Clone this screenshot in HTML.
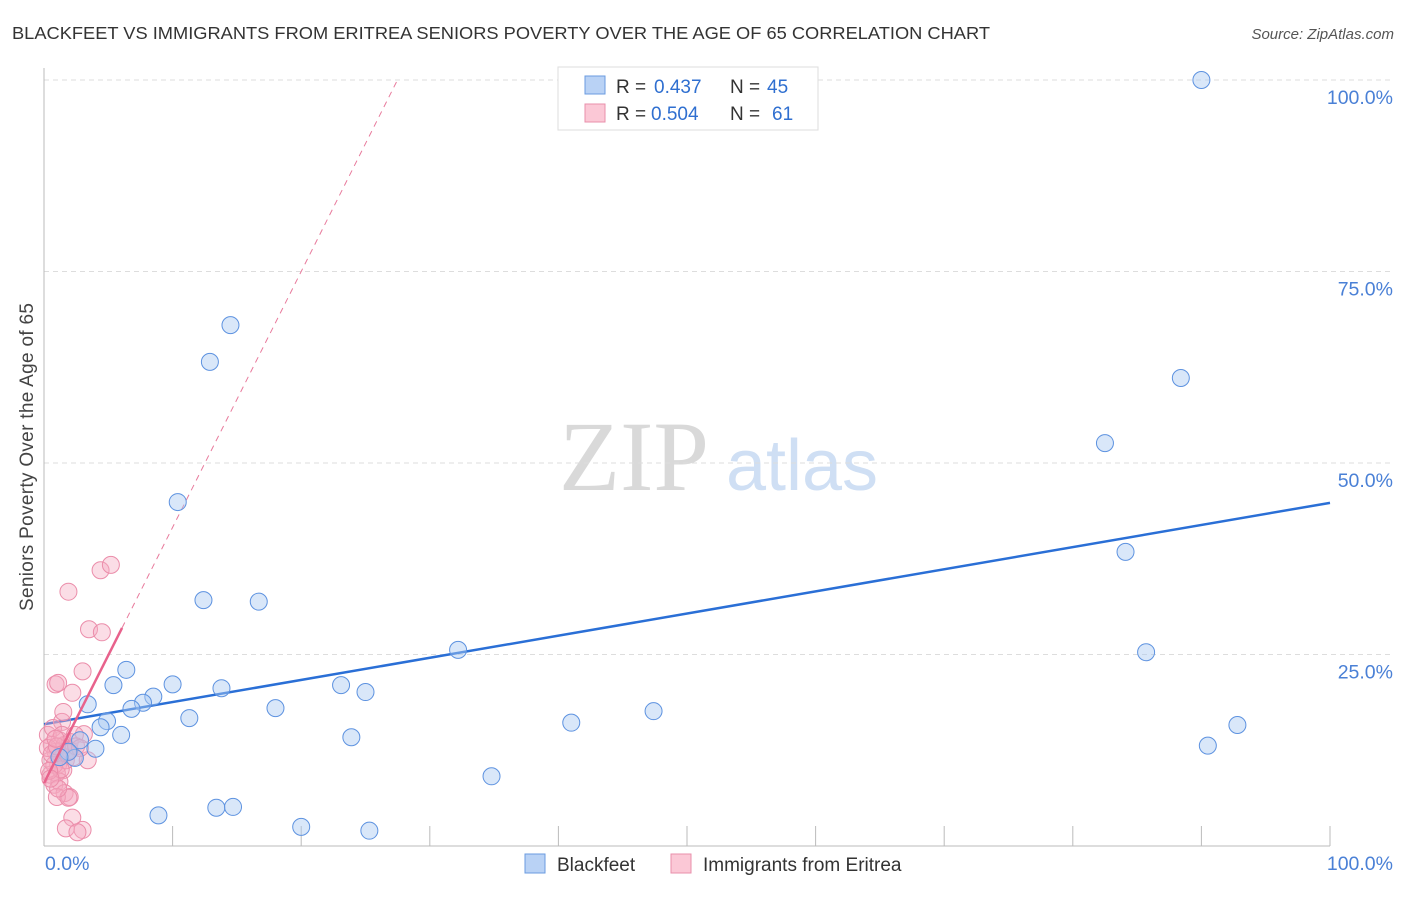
<!DOCTYPE html>
<html><head><meta charset="utf-8"><style>
body{margin:0;background:#fff;font-family:"Liberation Sans",sans-serif;}
</style></head><body>
<svg width="1406" height="892" font-family="Liberation Sans, sans-serif">
<text x="12" y="39" font-size="17.5" fill="#333" textLength="978" lengthAdjust="spacingAndGlyphs">BLACKFEET VS IMMIGRANTS FROM ERITREA SENIORS POVERTY OVER THE AGE OF 65 CORRELATION CHART</text>
<text x="1394" y="39" font-size="15" fill="#555" font-style="italic" text-anchor="end">Source: ZipAtlas.com</text>
<text transform="translate(33,457) rotate(-90)" font-size="19" fill="#444" text-anchor="middle" textLength="308">Seniors Poverty Over the Age of 65</text>
<g>
<text x="634" y="490" font-size="100" style="font-family:'Liberation Serif',serif" fill="#d9d9d9" text-anchor="middle">ZIP</text>
<text x="802" y="490" font-size="72" fill="#cfdff4" text-anchor="middle">atlas</text>
</g>
<g id="grid"></g>
<g id="axes"></g>
<g id="lines"></g>
<g id="pts"></g>
<g>
<rect x="558" y="67" width="260" height="63" fill="#fff" stroke="#ddd"/>
<rect x="585" y="76" width="20" height="18" fill="#b9d2f5" stroke="#6a9be0"/>
<text x="616" y="93" font-size="19" fill="#333">R =</text>
<text x="654" y="93" font-size="19" fill="#2f6fd0">0.437</text>
<text x="730" y="93" font-size="19" fill="#333">N =</text>
<text x="767" y="93" font-size="19" fill="#2f6fd0">45</text>
<rect x="585" y="104" width="20" height="18" fill="#fbc8d6" stroke="#e88fab"/>
<text x="616" y="120" font-size="19" fill="#333">R =</text>
<text x="651" y="120" font-size="19" fill="#2f6fd0">0.504</text>
<text x="730" y="120" font-size="19" fill="#333">N =</text>
<text x="772" y="120" font-size="19" fill="#2f6fd0">61</text>
</g>
<g>
<rect x="525" y="854" width="20" height="19" fill="#b9d2f5" stroke="#6a9be0"/>
<text x="557" y="871" font-size="19" fill="#333">Blackfeet</text>
<rect x="671" y="854" width="20" height="19" fill="#fbc8d6" stroke="#e88fab"/>
<text x="703" y="871" font-size="19" fill="#333">Immigrants from Eritrea</text>
</g>
</svg>
<script>
const yTicks=[25,50,75,100];
const yTickLabels=["25.0%","50.0%","75.0%","100.0%"];
const blueX=[90.0,14.5,12.9,88.4,82.5,10.4,84.1,12.4,16.7,32.2,85.7,6.4,10.0,5.4,23.1,13.8,25.0,8.5,7.7,6.8,3.4,18.0,11.3,4.9,41.0,47.4,92.8,4.4,6.0,23.9,4.0,90.5,2.4,2.8,34.8,8.9,13.4,14.7,20.0,25.3,1.9,1.2];
const blueY=[100.0,68.0,63.2,61.1,52.6,44.9,38.4,32.1,31.9,25.6,25.3,23.0,21.1,21.0,21.0,20.6,20.1,19.5,18.7,17.9,18.5,18.0,16.7,16.3,16.1,17.6,15.8,15.5,14.5,14.2,12.7,13.1,11.5,13.8,9.1,4.0,5.0,5.1,2.5,2.0,12.3,11.6];
const pinkX=[1.9,4.4,5.2,3.5,4.5,3.0,0.9,1.1,2.2,1.4,3.1,1.2,0.6,0.9,1.6,2.0,0.5,1.1,1.5,0.5,1.0,1.7,2.3,3.4,0.8,1.2,1.6,2.0,1.0,1.9,2.2,1.7,3.0,2.6,0.3,0.7,1.3,0.8,0.3,1.4,2.4,2.0,1.5,0.6,1.0,1.3,0.4,1.8,2.5,0.9,1.1,0.5,2.8];
const pinkY=[33.2,36.0,36.7,28.3,27.9,22.8,21.1,21.3,20.0,16.2,14.6,13.8,13.2,12.3,13.2,13.6,11.2,10.6,9.9,9.3,9.5,11.2,11.6,11.2,8.0,8.4,6.9,6.4,6.4,6.3,3.7,2.3,2.1,1.8,14.5,15.4,11.9,10.6,12.8,14.5,14.5,12.5,17.5,12.0,13.0,10.0,9.8,12.2,13.0,14.0,7.5,8.8,12.8];
const blueFit=[15.9,44.8];
const pinkFit=[8.2,3.34];
const pinkSolidEnd=6.07;
const X0=44,X1=1330,Y0=846,Y100=80;
const sx=v=>X0+(X1-X0)*v/100, sy=v=>Y0-(Y0-Y100)*v/100;
const NS="http://www.w3.org/2000/svg";
function mk(t,a,p){const e=document.createElementNS(NS,t);for(const k in a)e.setAttribute(k,a[k]);p.appendChild(e);return e;}
const grid=document.getElementById('grid'),axes=document.getElementById('axes'),lines=document.getElementById('lines'),pts=document.getElementById('pts');
yTicks.forEach((t,i)=>{
 const g=mk('line',{x1:X0,x2:1394,y1:sy(t),y2:sy(t),stroke:'#ddd','stroke-dasharray':'5,4'},grid);
 
 
 const l=mk('text',{x:1393,y:sy(t)+24,'font-size':19.5,fill:'#4a80d6','text-anchor':'end'},grid);l.textContent=yTickLabels[i];
 
 
});
let a=mk('line',{x1:X0,x2:X0,y1:68,y2:Y0,stroke:'#bbb'},axes);


a=mk('line',{x1:X0,x2:X1,y1:Y0,y2:Y0,stroke:'#bbb'},axes);


for(let i=1;i<=10;i++){const t=mk('line',{x1:sx(i*10),x2:sx(i*10),y1:826,y2:Y0,stroke:'#bbb'},axes);
 
 }
let xl=mk('text',{x:45,y:870,'font-size':19.5,fill:'#4a80d6'},axes);xl.textContent='0.0%';


xl=mk('text',{x:1393,y:870,'font-size':19.5,fill:'#4a80d6','text-anchor':'end'},axes);xl.textContent='100.0%';


pinkX.forEach((x,i)=>{const c=mk('circle',{cx:sx(x),cy:sy(pinkY[i]),r:8.5,fill:'rgba(246,170,192,0.4)',stroke:'#eb8daa','stroke-width':1},pts);
 
 });
blueX.forEach((x,i)=>{const c=mk('circle',{cx:sx(x),cy:sy(blueY[i]),r:8.5,fill:'rgba(170,202,242,0.45)',stroke:'#5d92e0','stroke-width':1},pts);
 
 });
let ln=mk('line',{x1:sx(0),y1:sy(blueFit[0]),x2:sx(100),y2:sy(blueFit[1]),stroke:'#2a6fd6','stroke-width':2.5},lines);


const dashEnd=(100-pinkFit[0])/pinkFit[1];
ln=mk('line',{x1:sx(pinkSolidEnd),y1:sy(pinkFit[0]+pinkFit[1]*pinkSolidEnd),x2:sx(dashEnd),y2:sy(100),stroke:'#e87a9c','stroke-width':1,'stroke-dasharray':'6,5'},lines);


ln=mk('line',{x1:sx(0),y1:sy(pinkFit[0]),x2:sx(pinkSolidEnd),y2:sy(pinkFit[0]+pinkFit[1]*pinkSolidEnd),stroke:'#e8628c','stroke-width':2.5},pts);


</script>
</body></html>
